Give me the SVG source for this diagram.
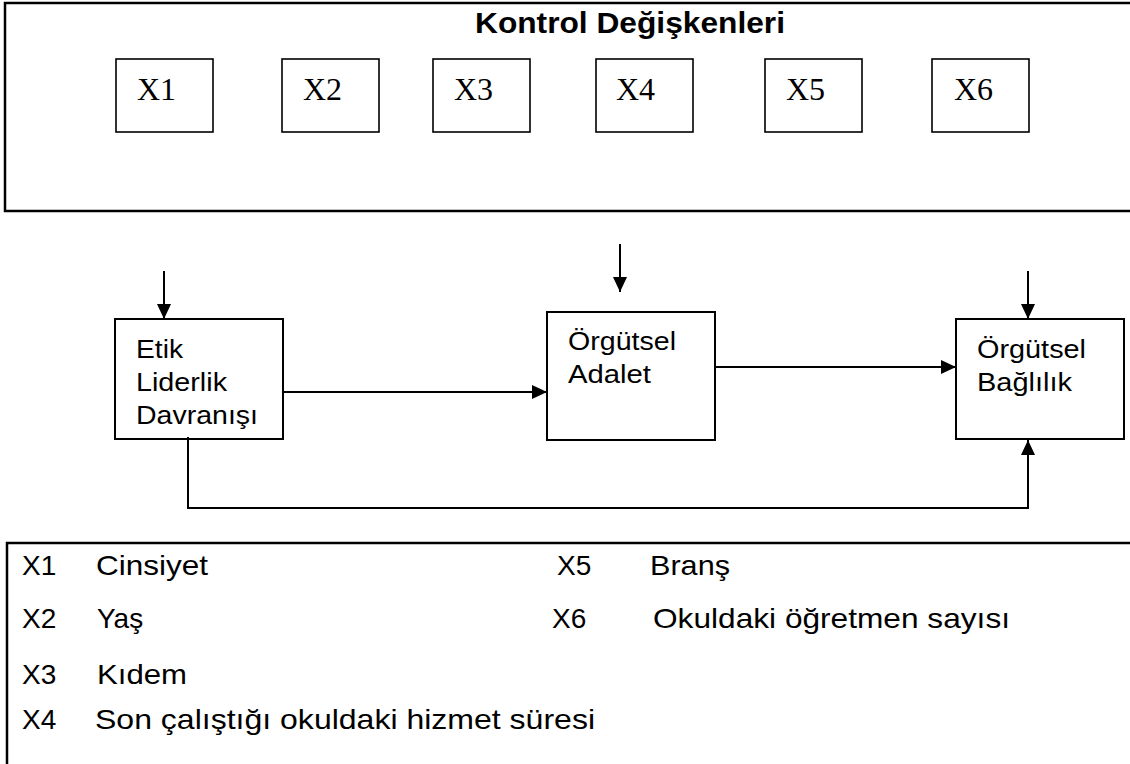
<svg xmlns="http://www.w3.org/2000/svg" width="1130" height="764" viewBox="0 0 1130 764">
<style>
.frame{fill:none;stroke:#000;stroke-width:2.5}
.xbox{fill:#fff;stroke:#000;stroke-width:1.6}
.box{fill:#fff;stroke:#000;stroke-width:2}
.xl{font-family:"Liberation Serif","Times New Roman",serif;font-size:32px;fill:#000}
.t{font-family:"Liberation Sans",Arial,sans-serif;font-size:26px;fill:#000}
.lg{font-family:"Liberation Sans",Arial,sans-serif;font-size:28px;fill:#000}
.ttl{font-family:"Liberation Sans",Arial,sans-serif;font-size:30px;font-weight:bold;fill:#000}
.c{fill:none;stroke:#000;stroke-width:2}
</style>
<defs>
<marker id="ah" markerUnits="userSpaceOnUse" markerWidth="16" markerHeight="16" refX="15" refY="7" orient="auto">
<path d="M0,0 L15,7 L0,14 Z" fill="#000"/>
</marker>
</defs>
<rect width="1130" height="764" fill="#fff"/>
<g id="control-frame">
<path class="frame" d="M1132,3 H5 V211 H1132"/>
<text class="ttl" x="475" y="33" textLength="310" lengthAdjust="spacingAndGlyphs">Kontrol Değişkenleri</text>
</g>
<g id="x1"><rect class="xbox" x="116" y="59" width="97" height="73"/><text class="xl" x="137" y="100">X1</text></g>
<g id="x2"><rect class="xbox" x="282" y="59" width="97" height="73"/><text class="xl" x="303" y="100">X2</text></g>
<g id="x3"><rect class="xbox" x="433" y="59" width="97" height="73"/><text class="xl" x="454" y="100">X3</text></g>
<g id="x4"><rect class="xbox" x="596" y="59" width="97" height="73"/><text class="xl" x="616" y="100">X4</text></g>
<g id="x5"><rect class="xbox" x="765" y="59" width="97" height="73"/><text class="xl" x="786" y="100">X5</text></g>
<g id="x6"><rect class="xbox" x="932" y="59" width="97" height="73"/><text class="xl" x="954" y="100">X6</text></g>
<g id="etik">
<rect class="box" x="115" y="319" width="168" height="120"/>
<text class="t" x="136" y="358" textLength="47" lengthAdjust="spacingAndGlyphs">Etik</text>
<text class="t" x="136" y="391" textLength="91" lengthAdjust="spacingAndGlyphs">Liderlik</text>
<text class="t" x="136" y="424" textLength="122" lengthAdjust="spacingAndGlyphs">Davranışı</text>
</g>
<g id="adalet">
<rect class="box" x="547" y="312" width="168" height="128"/>
<text class="t" x="568" y="350" textLength="108" lengthAdjust="spacingAndGlyphs">Örgütsel</text>
<text class="t" x="568" y="383" textLength="83" lengthAdjust="spacingAndGlyphs">Adalet</text>
</g>
<g id="baglilik">
<rect class="box" x="956" y="319" width="168" height="120"/>
<text class="t" x="977" y="358" textLength="109" lengthAdjust="spacingAndGlyphs">Örgütsel</text>
<text class="t" x="977" y="391" textLength="95" lengthAdjust="spacingAndGlyphs">Bağlılık</text>
</g>
<g id="connectors">
<line class="c" x1="164" y1="271" x2="164" y2="319" marker-end="url(#ah)"/>
<line class="c" x1="620" y1="244" x2="620" y2="292" marker-end="url(#ah)"/>
<line class="c" x1="1028" y1="271" x2="1028" y2="319" marker-end="url(#ah)"/>
<line class="c" x1="283" y1="392" x2="547" y2="392" marker-end="url(#ah)"/>
<line class="c" x1="715" y1="367" x2="956" y2="367" marker-end="url(#ah)"/>
<path class="c" d="M188,437 V508 H1028 V440" marker-end="url(#ah)"/>
</g>
<g id="legend">
<path class="frame" d="M1132,543 H7 V766"/>
<text class="lg" x="22" y="575">X1</text>
<text class="lg" x="96" y="575" textLength="112" lengthAdjust="spacingAndGlyphs">Cinsiyet</text>
<text class="lg" x="22" y="628">X2</text>
<text class="lg" x="97" y="628">Yaş</text>
<text class="lg" x="22" y="684">X3</text>
<text class="lg" x="97" y="684" textLength="90" lengthAdjust="spacingAndGlyphs">Kıdem</text>
<text class="lg" x="22" y="729">X4</text>
<text class="lg" x="95" y="729" textLength="500" lengthAdjust="spacingAndGlyphs">Son çalıştığı okuldaki hizmet süresi</text>
<text class="lg" x="557" y="575">X5</text>
<text class="lg" x="650" y="575" textLength="80" lengthAdjust="spacingAndGlyphs">Branş</text>
<text class="lg" x="552" y="628">X6</text>
<text class="lg" x="653" y="628" textLength="357" lengthAdjust="spacingAndGlyphs">Okuldaki öğretmen sayısı</text>
</g>
</svg>
